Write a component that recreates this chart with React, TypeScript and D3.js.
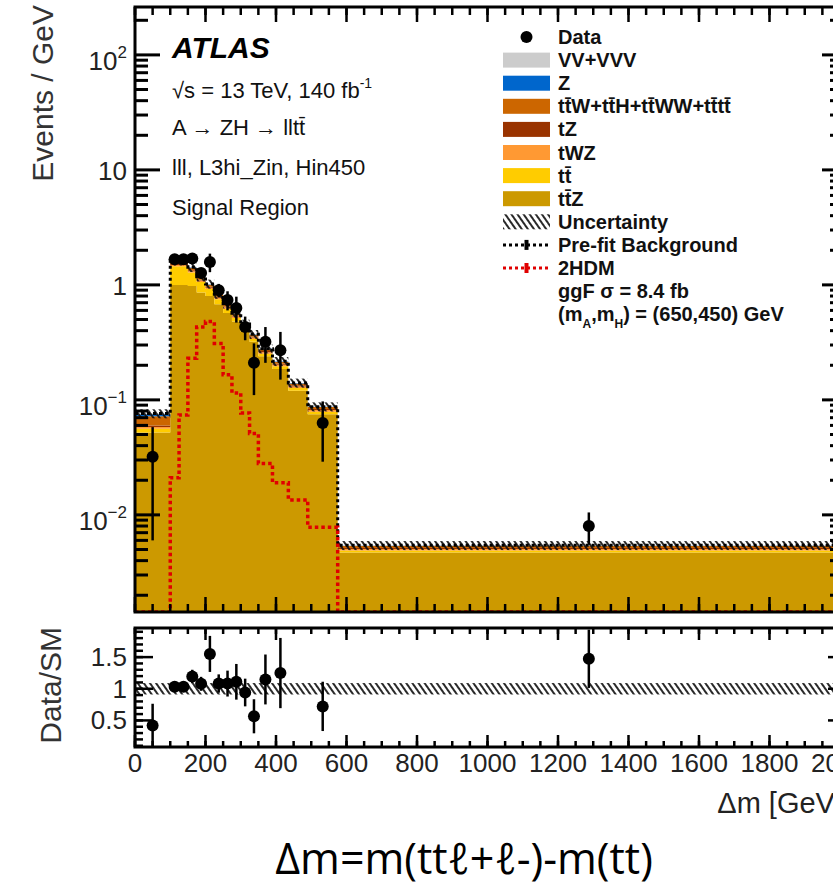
import React from "react";
import * as d3 from "d3";

// bin edges in GeV
const binEdges = [0, 100, 125, 150, 175, 200, 225, 250, 275, 300, 325, 350, 390, 435, 490, 575, 2000];

// stacked backgrounds, events / GeV (bottom to top)
const ttZ = [0.052, 1.0, 1.0, 0.98, 0.86, 0.8, 0.68, 0.57, 0.48, 0.39, 0.32, 0.24, 0.186, 0.12, 0.075, 0.0047];
const ttbar = [0.004, 0.45, 0.45, 0.3, 0.2, 0.12, 0.07, 0.05, 0.035, 0.025, 0.018, 0.012, 0.01, 0.007, 0.004, 0.0002];
const tWZ = [0.002, 0.04, 0.04, 0.035, 0.03, 0.026, 0.022, 0.018, 0.015, 0.012, 0.01, 0.008, 0.006, 0.004, 0.0025, 0.00015];
const tZ = [0.002, 0.03, 0.03, 0.025, 0.02, 0.018, 0.015, 0.012, 0.01, 0.008, 0.007, 0.006, 0.004, 0.003, 0.002, 0.0001];
const ttW = [0.012, 0.07, 0.07, 0.06, 0.05, 0.04, 0.032, 0.025, 0.02, 0.016, 0.012, 0.01, 0.008, 0.005, 0.003, 0.0002];
const zjets = [0.003, 0.02, 0.02, 0.015, 0.012, 0.01, 0.008, 0.006, 0.005, 0.004, 0.003, 0.002, 0.0015, 0.001, 0.0005, 0.00005];
const vv = [0.001, 0.01, 0.01, 0.008, 0.006, 0.005, 0.004, 0.003, 0.0025, 0.002, 0.0015, 0.001, 0.0008, 0.0005, 0.0003, 0.00003];

// data (null = empty bin) and symmetric errors
const dataVals = [0.032, 1.67, 1.67, 1.7, 1.27, 1.58, 0.9, 0.74, 0.63, 0.43, 0.21, 0.32, 0.27, null, 0.063, 0.008];
const dataErr = [0.026, 0.13, 0.13, 0.15, 0.13, 0.29, 0.12, 0.14, 0.16, 0.1, 0.1, 0.11, 0.12, 0, 0.034, 0.0025];

// 2HDM signal
const signal = [0, 0.021, 0.074, 0.23, 0.43, 0.48, 0.31, 0.165, 0.115, 0.077, 0.051, 0.028, 0.019, 0.0135, 0.0078, 0];

const uncFrac = 0.09;

const xTicksMajor = [0, 200, 400, 600, 800, 1000, 1200, 1400, 1600, 1800, 2000];
const yMainLabels = [
  { v: 100, base: "10", exp: "2" },
  { v: 10, base: "10", exp: "" },
  { v: 1, base: "1", exp: "" },
  { v: 0.1, base: "10", exp: "\u22121" },
  { v: 0.01, base: "10", exp: "\u22122" },
];
const ratioTicks = [0.5, 1, 1.5];
const ratioLabels = ["0.5", "1", "1.5"];

const layers = [
  { key: "ttZ", vals: ttZ, color: "#cc9900" },
  { key: "ttbar", vals: ttbar, color: "#ffcc00" },
  { key: "tWZ", vals: tWZ, color: "#ff9933" },
  { key: "tZ", vals: tZ, color: "#993300" },
  { key: "ttW", vals: ttW, color: "#cc6600" },
  { key: "Z", vals: zjets, color: "#0066cc" },
  { key: "VV", vals: vv, color: "#cccccc" },
];

const FONT = "'Liberation Sans', Arial, Helvetica, sans-serif";

const App = () => {
  const left = 135;
  const right = 840;
  const mainTop = 7;
  const mainBottom = 612;
  const ratTop = 628;
  const ratBottom = 747;

  const x = d3.scaleLinear().domain([0, 2000]).range([left, right]);
  const yMin = 0.00143;
  const y = d3.scaleLog().domain([yMin, 261]).range([mainBottom, mainTop]);
  const yr = d3.scaleLinear().domain([0.08, 1.96]).range([ratBottom, ratTop]);
  const yc = (v: number) => y(Math.max(v, yMin));

  const nb = binEdges.length - 1;
  const table = d3.range(nb).map((i) => {
    const row: any = {};
    layers.forEach((l) => (row[l.key] = l.vals[i]));
    return row;
  });
  const stacked = d3.stack().keys(layers.map((l) => l.key))(table);
  const total = table.map((_, i) => stacked[stacked.length - 1][i][1]);

  const stepArea = (s: any) => {
    const pts: any[] = [];
    s.forEach((d: any, i: number) => {
      pts.push({ x: binEdges[i], y0: d[0], y1: d[1] });
      pts.push({ x: binEdges[i + 1], y0: d[0], y1: d[1] });
    });
    return d3
      .area<any>()
      .x((p) => x(p.x))
      .y0((p) => yc(p.y0))
      .y1((p) => yc(p.y1))(pts);
  };

  const stepLine = (vals: number[]) => {
    const pts: [number, number][] = [];
    vals.forEach((v, i) => {
      pts.push([x(binEdges[i]), yc(v)]);
      pts.push([x(binEdges[i + 1]), yc(v)]);
    });
    return d3.line()(pts);
  };

  const xMinor = d3.range(0, 2001, 50);
  const logMinor: number[] = [];
  for (let e = -3; e <= 2; e++) for (let k = 2; k <= 9; k++) logMinor.push(k * Math.pow(10, e));
  const ratMinor = d3.range(0.1, 1.95, 0.1);

  const centers = d3.range(nb).map((i) => (binEdges[i] + binEdges[i + 1]) / 2);

  const legendY = (i: number) => 37 + i * 23.1;
  const lx0 = 503;
  const lw = 47;
  const lt = 558;
  const legendBoxes = [
    { label: "VV+VVV", color: "#cccccc" },
    { label: "Z", color: "#0066cc" },
    { label: "tt\u0304W+tt\u0304H+tt\u0304WW+tt\u0304tt\u0304", color: "#cc6600" },
    { label: "tZ", color: "#993300" },
    { label: "tWZ", color: "#ff9933" },
    { label: "tt\u0304", color: "#ffcc00" },
    { label: "tt\u0304Z", color: "#cc9900" },
  ];

  return (
    <svg width={833} height={886} style={{ position: "absolute", left: 0, top: 0, background: "#fff" }} fontFamily={FONT}>
      <defs>
        <pattern id="hatch" width={5} height={5} patternUnits="userSpaceOnUse" patternTransform="rotate(-35)">
          <line x1={1} y1={0} x2={1} y2={5} stroke="#111" strokeWidth={1.8} />
        </pattern>
        <clipPath id="clipMain">
          <rect x={left} y={mainTop} width={right - left} height={mainBottom - mainTop} />
        </clipPath>
        <clipPath id="clipRat">
          <rect x={left} y={ratTop} width={right - left} height={ratBottom - ratTop} />
        </clipPath>
      </defs>

      {/* main panel */}
      <g clipPath="url(#clipMain)">
        {stacked.map((s, i) => (
          <path key={layers[i].key} d={stepArea(s) || ""} fill={layers[i].color} />
        ))}
        {total.map((t, i) => (
          <rect
            key={"u" + i}
            x={x(binEdges[i])}
            width={x(binEdges[i + 1]) - x(binEdges[i])}
            y={yc(t * (1 + uncFrac))}
            height={yc(t * (1 - uncFrac)) - yc(t * (1 + uncFrac))}
            fill="url(#hatch)"
          />
        ))}
        <path d={stepLine(total) || ""} fill="none" stroke="#000" strokeWidth={3} strokeDasharray="3,3" />
        <path d={stepLine(signal) || ""} fill="none" stroke="#e00000" strokeWidth={3.5} strokeDasharray="3.5,3" />
        {dataVals.map((d, i) =>
          d == null ? null : (
            <g key={"d" + i}>
              <line
                x1={x(centers[i])}
                x2={x(centers[i])}
                y1={yc(d + dataErr[i])}
                y2={yc(d - dataErr[i])}
                stroke="#000"
                strokeWidth={2.5}
              />
              <circle cx={x(centers[i])} cy={yc(d)} r={6} fill="#000" />
            </g>
          )
        )}
      </g>

      {/* main ticks */}
      <g stroke="#000">
        {xTicksMajor.map((t) => (
          <g key={"xm" + t} strokeWidth={2.5}>
            <line x1={x(t)} x2={x(t)} y1={mainBottom} y2={mainBottom - 15} />
            <line x1={x(t)} x2={x(t)} y1={mainTop} y2={mainTop + 15} />
          </g>
        ))}
        {xMinor.map((t) => (
          <g key={"xn" + t} strokeWidth={2.5}>
            <line x1={x(t)} x2={x(t)} y1={mainBottom} y2={mainBottom - 8} />
            <line x1={x(t)} x2={x(t)} y1={mainTop} y2={mainTop + 8} />
          </g>
        ))}
        {yMainLabels.map((t) => (
          <g key={"ym" + t.v} strokeWidth={3}>
            <line x1={left} x2={left + 25} y1={y(t.v)} y2={y(t.v)} />
            <line x1={right} x2={right - 18} y1={y(t.v)} y2={y(t.v)} />
          </g>
        ))}
        {logMinor
          .filter((v) => v > yMin && v < 261)
          .map((v) => (
            <g key={"yn" + v} strokeWidth={3}>
              <line x1={left} x2={left + 13} y1={y(v)} y2={y(v)} />
              <line x1={right} x2={right - 10} y1={y(v)} y2={y(v)} />
            </g>
          ))}
      </g>
      <rect x={left} y={mainTop} width={right - left} height={mainBottom - mainTop} fill="none" stroke="#000" strokeWidth={3} />

      {/* main y labels */}
      {yMainLabels.map((t) => (
        <text
          key={"yl" + t.v}
          x={127}
          y={y(t.v) + (t.exp ? 15 : 10)}
          textAnchor="end"
          fontSize={26}
          fill="#222"
        >
          {t.base}
          {t.exp ? (
            <tspan fontSize={17} dy={-12}>
              {t.exp}
            </tspan>
          ) : null}
        </text>
      ))}
      <text transform="translate(53,5) rotate(-90)" textAnchor="end" fontSize={30} fill="#333">
        Events / GeV
      </text>

      {/* ATLAS labels */}
      <text x={172} y={58} fontSize={30} fontWeight="bold" fontStyle="italic" fill="#000">
        ATLAS
      </text>
      <text x={172} y={98} fontSize={22} fill="#111">
        {"\u221As = 13 TeV, 140 fb"}
        <tspan fontSize={14} dy={-10}>
          -1
        </tspan>
      </text>
      <text x={172} y={135} fontSize={22} fill="#111">
        {"A \u2192 ZH \u2192 lltt\u0304"}
      </text>
      <text x={172} y={175} fontSize={22} fill="#111">
        lll, L3hi_Zin, Hin450
      </text>
      <text x={172} y={215} fontSize={22} fill="#111">
        Signal Region
      </text>

      {/* legend */}
      <g fontSize={20} fontWeight="bold" fill="#111">
        <circle cx={lx0 + lw / 2} cy={legendY(0)} r={6} fill="#000" />
        <text x={lt} y={legendY(0) + 7}>Data</text>
        {legendBoxes.map((b, i) => (
          <g key={b.label}>
            <rect x={lx0} y={legendY(i + 1) - 7.5} width={lw} height={15} fill={b.color} />
            <text x={lt} y={legendY(i + 1) + 7}>{b.label}</text>
          </g>
        ))}
        <rect x={lx0} y={legendY(8) - 7.5} width={lw} height={15} fill="url(#hatch)" />
        <text x={lt} y={legendY(8) + 7}>Uncertainty</text>
        <line x1={lx0} x2={lx0 + lw} y1={legendY(9)} y2={legendY(9)} stroke="#000" strokeWidth={3} strokeDasharray="3,3" />
        <rect x={lx0 + lw / 2 - 2} y={legendY(9) - 5} width={4} height={10} fill="#000" />
        <text x={lt} y={legendY(9) + 7}>Pre-fit Background</text>
        <line x1={lx0} x2={lx0 + lw} y1={legendY(10)} y2={legendY(10)} stroke="#e00000" strokeWidth={3} strokeDasharray="3,3" />
        <rect x={lx0 + lw / 2 - 2} y={legendY(10) - 5} width={4} height={10} fill="#e00000" />
        <text x={lt} y={legendY(10) + 7}>2HDM</text>
        <text x={lt} y={legendY(11) + 7}>{"ggF  \u03C3 = 8.4 fb"}</text>
        <text x={lt} y={legendY(12) + 7}>
          (m
          <tspan fontSize={12} dy={7}>
            A
          </tspan>
          <tspan dy={-7}>,m</tspan>
          <tspan fontSize={12} dy={7}>
            H
          </tspan>
          <tspan dy={-7}>) = (650,450) GeV</tspan>
        </text>
      </g>

      {/* ratio panel */}
      <g clipPath="url(#clipRat)">
        <rect x={left} width={right - left} y={yr(1 + uncFrac)} height={yr(1 - uncFrac) - yr(1 + uncFrac)} fill="url(#hatch)" />
        {dataVals.map((d, i) =>
          d == null ? null : (
            <g key={"r" + i}>
              <line
                x1={x(centers[i])}
                x2={x(centers[i])}
                y1={yr((d + dataErr[i]) / total[i])}
                y2={yr((d - dataErr[i]) / total[i])}
                stroke="#000"
                strokeWidth={2.5}
              />
              <circle cx={x(centers[i])} cy={yr(d / total[i])} r={6} fill="#000" />
            </g>
          )
        )}
      </g>
      <g stroke="#000" strokeWidth={2.5}>
        {xTicksMajor.map((t) => (
          <g key={"rxm" + t}>
            <line x1={x(t)} x2={x(t)} y1={ratBottom} y2={ratBottom - 12} />
            <line x1={x(t)} x2={x(t)} y1={ratTop} y2={ratTop + 12} />
          </g>
        ))}
        {xMinor.map((t) => (
          <g key={"rxn" + t}>
            <line x1={x(t)} x2={x(t)} y1={ratBottom} y2={ratBottom - 6} />
            <line x1={x(t)} x2={x(t)} y1={ratTop} y2={ratTop + 6} />
          </g>
        ))}
        {ratioTicks.map((t) => (
          <g key={"rym" + t}>
            <line x1={left} x2={left + 18} y1={yr(t)} y2={yr(t)} />
            <line x1={right} x2={right - 12} y1={yr(t)} y2={yr(t)} />
          </g>
        ))}
        {ratMinor.map((t) => (
          <g key={"ryn" + t}>
            <line x1={left} x2={left + 8} y1={yr(t)} y2={yr(t)} />
            <line x1={right} x2={right - 6} y1={yr(t)} y2={yr(t)} />
          </g>
        ))}
      </g>
      <rect x={left} y={ratTop} width={right - left} height={ratBottom - ratTop} fill="none" stroke="#000" strokeWidth={3} />
      {ratioTicks.map((t, i) => (
        <text key={"rl" + t} x={127} y={yr(t) + 9} textAnchor="end" fontSize={26} fill="#222">
          {ratioLabels[i]}
        </text>
      ))}
      <text transform="translate(61,627) rotate(-90)" textAnchor="end" fontSize={30} fill="#333">
        Data/SM
      </text>
      {xTicksMajor.map((t) => (
        <text key={"xl" + t} x={x(t)} y={772} textAnchor="middle" fontSize={26} fill="#222">
          {t}
        </text>
      ))}
      <text x={843} y={813} textAnchor="end" fontSize={29} fill="#222">
        {"\u0394m [GeV]"}
      </text>

      <text x={464} y={874} textAnchor="middle" fontSize={43} fill="#000" fontFamily="'Open Sans', 'Noto Sans', sans-serif">
        {"\u0394m=m(tt\u2113+\u2113-)-m(tt)"}
      </text>
    </svg>
  );
};

export default App;
